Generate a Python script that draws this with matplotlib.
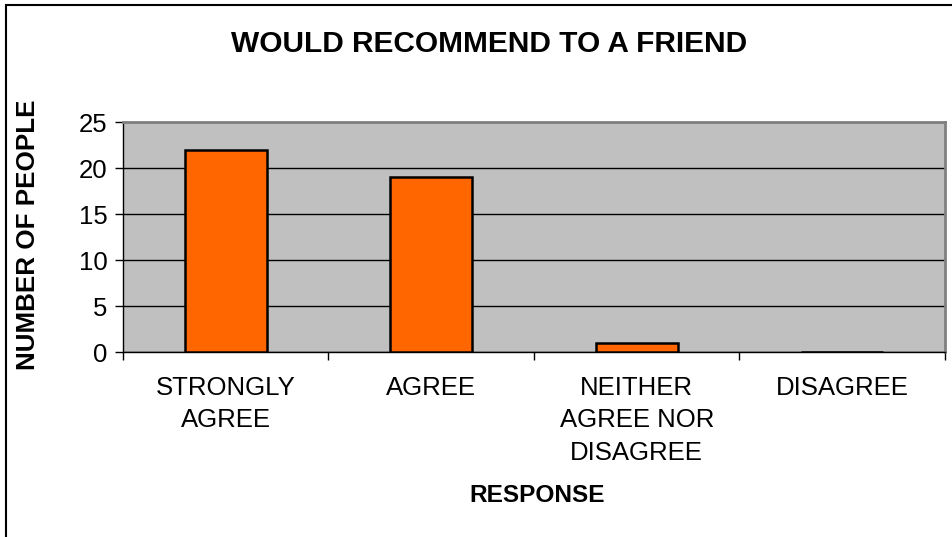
import matplotlib
matplotlib.use("Agg")
import matplotlib.pyplot as plt
from matplotlib.patches import Rectangle

categories = ["STRONGLY\nAGREE", "AGREE", "NEITHER\nAGREE NOR\nDISAGREE", "DISAGREE"]
counts = [22, 19, 1, 0]
y_ticks = [0, 5, 10, 15, 20, 25]

title = "WOULD RECOMMEND TO A FRIEND"
x_label = "RESPONSE"
y_label = "NUMBER OF PEOPLE"

plt.rcParams["font.family"] = ["Liberation Sans", "DejaVu Sans"]

W, H, DPI = 953, 537, 100
fig = plt.figure(figsize=(W / DPI, H / DPI), dpi=DPI)

# outer chart frame
fig.patches.append(Rectangle((6 / W, -0.1), 1.2, (1 - 5 / H) + 0.1,
                             transform=fig.transFigure, fill=False,
                             edgecolor="black", linewidth=1.5, zorder=0))

left, right, top, bottom = 123, 945, 122, 352
ax = fig.add_axes([left / W, 1 - bottom / H, (right - left) / W, (bottom - top) / H])
ax.set_facecolor("#C0C0C0")

x = list(range(len(categories)))
ax.bar(x, counts, width=0.4, color="#FF6600", edgecolor="black", linewidth=1.8, zorder=3)

ax.set_xlim(-0.5, len(categories) - 0.5)
ax.set_ylim(0, 25)
ax.set_yticks(y_ticks)
ax.yaxis.grid(True, color="black", linewidth=1.0, zorder=1)
ax.set_axisbelow(True)

ax.set_xticks(x)
ax.set_xticklabels(categories, fontsize=18.5, linespacing=1.45, va="top")
ax.set_xticks([i - 0.5 for i in range(len(categories) + 1)], minor=True)
ax.tick_params(axis="x", which="major", length=0, pad=17)
ax.tick_params(axis="x", which="minor", length=6, width=1, color="black", direction="out")
ax.tick_params(axis="y", length=6, width=1, labelsize=18.5, pad=5)

for s in ("top", "right"):
    ax.spines[s].set_color("#808080")
    ax.spines[s].set_linewidth(2)
for s in ("left", "bottom"):
    ax.spines[s].set_color("black")
    ax.spines[s].set_linewidth(1)

fig.text(489 / W, 1 - 44 / H, title, ha="center", va="center", fontsize=21.5, fontweight="bold")
fig.text(537 / W, 1 - 495 / H, x_label, ha="center", va="center", fontsize=17.6, fontweight="bold")
fig.text(28 / W, 1 - 235 / H, y_label, ha="center", va="center", rotation=90,
         fontsize=18.7, fontweight="bold")

fig.savefig("out.png", dpi=DPI)
